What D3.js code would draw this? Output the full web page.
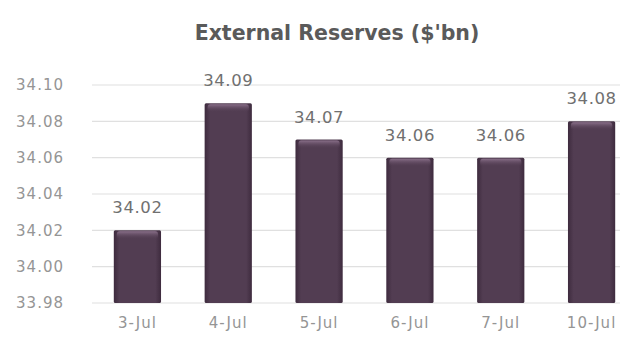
<!DOCTYPE html>
<html><head><meta charset="utf-8">
<script src="https://cdn.jsdelivr.net/npm/d3@7"></script>
<style>body{margin:0;background:#fff}svg{display:block}</style>
</head><body>
<svg id="c" width="624" height="340"></svg>
<script>
const categories = ["3-Jul","4-Jul","5-Jul","6-Jul","7-Jul","10-Jul"];
const values = [34.02, 34.09, 34.07, 34.06, 34.06, 34.08];
const yTicks = [33.98, 34.00, 34.02, 34.04, 34.06, 34.08, 34.10];
const title = "External Reserves ($'bn)";

const svg = d3.select("#c");
const font = "'DejaVu Sans',sans-serif";
const x = d3.scaleBand().domain(categories).range([92, 637]).paddingInner(0.48).paddingOuter(0.24);
const y = d3.scaleLinear().domain([33.98, 34.10]).range([303, 85]);

const defs = svg.append("defs");
const g1 = defs.append("linearGradient").attr("id","bg").attr("x1",0).attr("x2",1).attr("y1",0).attr("y2",0);
g1.append("stop").attr("offset","0").attr("stop-color","#3e2b3e");
g1.append("stop").attr("offset","0.12").attr("stop-color","#523d52");
g1.append("stop").attr("offset","0.88").attr("stop-color","#523d52");
g1.append("stop").attr("offset","1").attr("stop-color","#3e2b3e");
const g2 = defs.append("linearGradient").attr("id","tg").attr("x1",0).attr("x2",0).attr("y1",0).attr("y2",1);
g2.append("stop").attr("offset","0").attr("stop-color","#8a708a");
g2.append("stop").attr("offset","1").attr("stop-color","#523d52").attr("stop-opacity",0);

// gridlines
svg.append("g").selectAll("line").data(yTicks).join("line")
  .attr("x1", 92).attr("x2", 620)
  .attr("y1", d => y(d)).attr("y2", d => y(d))
  .attr("stroke", "#e0e0e0").attr("stroke-width", 1.2);

// y axis
const ya = svg.append("g").attr("transform","translate(65,0)")
  .call(d3.axisLeft(y).tickValues(yTicks).tickFormat(d3.format(".2f")).tickSize(0).tickPadding(1));
ya.select(".domain").remove();
ya.selectAll("text").attr("fill","#959595").style("font-family",font).style("font-size","15px").style("letter-spacing","1px");

// x axis
const xa = svg.append("g").attr("transform","translate(0,303)")
  .call(d3.axisBottom(x).tickSize(0).tickPadding(14));
xa.select(".domain").remove();
xa.selectAll("text").attr("fill","#959595").style("font-family",font).style("font-size","15px").style("letter-spacing","1px");

// bars
const bars = svg.append("g").selectAll("g").data(values).join("g");
bars.append("rect")
  .attr("x", (d,i) => x(categories[i])).attr("width", x.bandwidth())
  .attr("y", d => y(d)).attr("height", d => y(33.98) - y(d))
  .attr("fill", "url(#bg)").attr("rx", 1.5);
bars.append("rect")
  .attr("x", (d,i) => x(categories[i]) + 3).attr("width", x.bandwidth() - 6)
  .attr("y", d => y(d) + 1).attr("height", 8)
  .attr("fill", "url(#tg)").attr("rx", 3);

// value labels
svg.append("g").selectAll("text").data(values).join("text")
  .attr("x", (d,i) => x(categories[i]) + x.bandwidth()/2)
  .attr("y", d => y(d) - 17)
  .attr("text-anchor","middle").attr("fill","#707070")
  .style("font-family",font).style("font-size","16.5px").style("letter-spacing","0.6px")
  .text(d => d3.format(".2f")(d));

// title
svg.append("text").attr("x", 337).attr("y", 40).attr("text-anchor","middle")
  .attr("fill","#5a5a5a").style("font-family",font).style("font-weight","bold").style("font-size","20.5px")
  .text(title);
</script>
</body></html>
